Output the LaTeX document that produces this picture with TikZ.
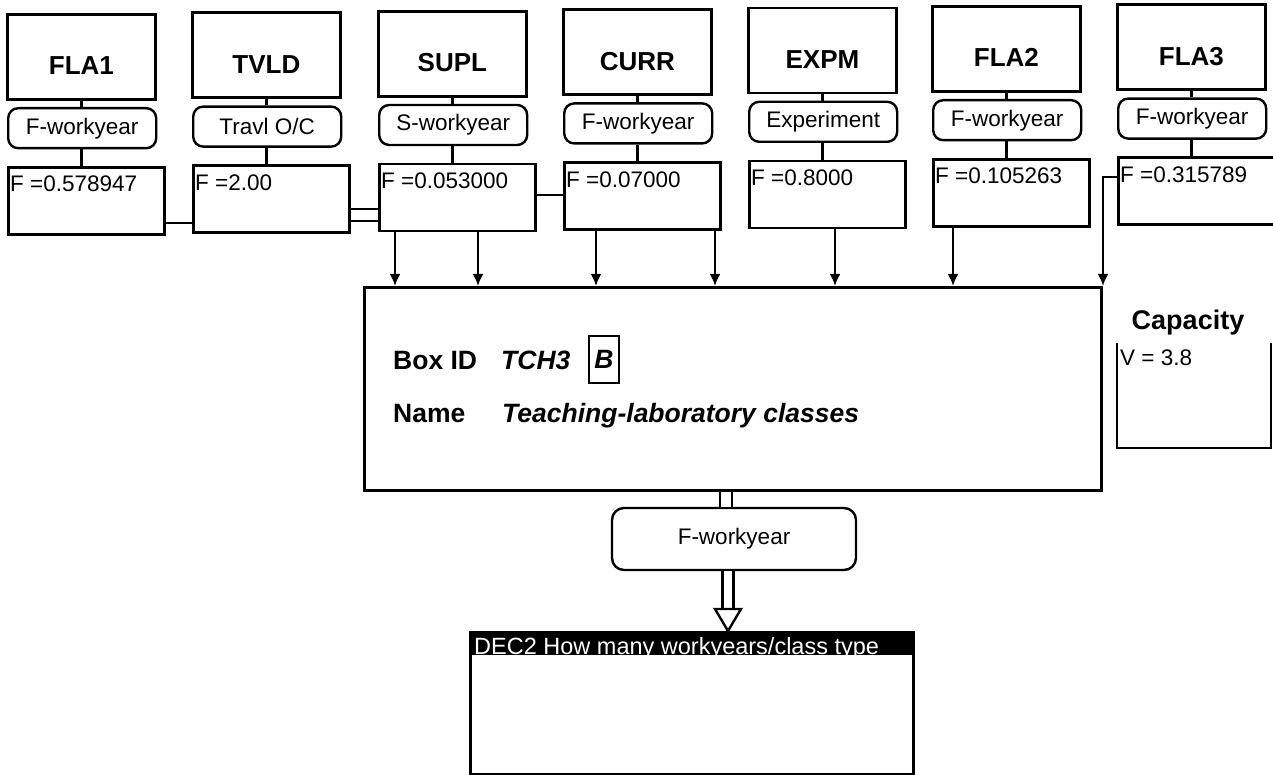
\documentclass[tikz,border=0pt]{standalone}
\usepackage{fontspec}
\setmainfont{Liberation Sans}
\usetikzlibrary{arrows.meta, calc}
\def\modcol[#1](#2,#3)#4#5#6{%
	\node[topbox, anchor=north west] (#1) at (#2,#3) {#4};
	\node[unitbox, anchor=north west] (#1u) at (#2+1,#3+94) {#5};
	\node[valbox, anchor=north west] (#1f) at (#2+1,#3+153) {};
	\node[valtext, anchor=base west] (#1v) at ($(#1f.north west)+(3,26)$) {F =#6};
	\draw[conn] (#1.south) -- (#1.south |- #1u.north);
	\draw[conn] (#1.south |- #1u.south) -- (#1.south |- #1f.north);
}

\begin{document}
\begin{tikzpicture}[x=1pt, y=-1pt,
	topbox/.style={draw, line width=2.8pt, minimum width=148pt, minimum height=85pt, inner sep=0pt,
		text height=36pt, text depth=0pt, font=\fontsize{26}{30}\selectfont\bfseries},
	unitbox/.style={draw, line width=2.4pt, rounded corners=10pt, minimum width=148pt, minimum height=40pt,
		inner sep=0pt, font=\fontsize{22.5}{26}\selectfont},
	valbox/.style={draw, line width=2.6pt, minimum width=156pt, minimum height=67pt, inner sep=0pt},
	valtext/.style={inner sep=0pt, font=\fontsize{22.5}{26}\selectfont},
	bigtext/.style={inner sep=0pt, font=\fontsize{26.5}{30}\selectfont\bfseries},
	conn/.style={line width=2.6pt},
	arr/.style={line width=2.6pt, -{Latex[length=12pt, width=11pt]}},
	dbl/.style={line width=2.4pt, double}]

	\useasboundingbox (0,0) rectangle (1273,775);

	\modcol[fla1](6,13){FLA1}{F-workyear}{0.578947}
	\modcol[tvld](191,11.4){TVLD}{Travl O/C}{2.00}
	\modcol[supl](377,9.8){SUPL}{S-workyear}{0.053000}
	\modcol[curr](562,8.2){CURR}{F-workyear}{0.07000}
	\modcol[expm](747,6.6){EXPM}{Experiment}{0.8000}
	\modcol[fla2](931,5){FLA2}{F-workyear}{0.105263}
	\modcol[fla3](1116,3.4){FLA3}{F-workyear}{0.315789}

	% activity box
	\node[draw, line width=3pt, anchor=north west, minimum width=737pt, minimum height=203pt] (tch) at (363,286) {};
	\node[bigtext, anchor=base west] (boxid) at (393,369) {Box ID};
	\node[bigtext, anchor=base west] (tchid) at (501,369) {\itshape TCH3};
	\node[bigtext, draw, line width=2.6pt, minimum width=30pt, minimum height=47pt] (bcode) at (604,359.5) {\itshape B};
	\node[bigtext, anchor=base west] (namelbl) at (393,422) {Name};
	\node[bigtext, anchor=base west] (tchname) at (502,422) {\itshape Teaching-laboratory classes};

	% links between the value boxes
	\draw[conn] (fla1f.east |- 0,223) -- (tvldf.west |- 0,223);
	\draw[conn] (tvldf.east |- 0,209) -- (suplf.west |- 0,209);
	\draw[conn] (tvldf.east |- 0,221) -- (suplf.west |- 0,221);
	\draw[conn] (suplf.east |- 0,195) -- (currf.west |- 0,195);

	\draw[arr] (suplf.south -| 395,0) -- (tch.north -| 395,0);
	\draw[arr] (suplf.south -| 478,0) -- (tch.north -| 478,0);
	\draw[arr] (currf.south -| 596,0) -- (tch.north -| 596,0);
	\draw[arr] (currf.south -| 715,0) -- (tch.north -| 715,0);
	\draw[arr] (expmf.south -| 835,0) -- (tch.north -| 835,0);
	\draw[arr] (fla2f.south -| 953,0) -- (tch.north -| 953,0);
	\draw[arr] (fla3f.west |- 0,177) -| (tch.north east);

	% capacity
	\node[inner sep=0pt, font=\fontsize{27}{30}\selectfont\bfseries] (cap) at (1188,323) {Capacity};
	\node[valtext, anchor=base west] (capv) at (1120,365) {V = 3.8};
	\draw[line width=2.4pt] (1117,343) |- (1271,448) -- (1271,343);

	% output
	\node[unitbox, rounded corners=12pt, minimum width=244pt, minimum height=62pt] (fwy) at (734,539) {F-workyear};
	\draw[dbl, double distance=9.5pt] (tch.south -| 726,0) -- (fwy.north -| 726,0);
	\draw[dbl, double distance=8.5pt] (fwy.south -| 728,0) -- (728,609);

	\node[draw, line width=2.6pt, anchor=north west, minimum width=443pt, minimum height=142pt] (dec) at (469,631) {};
	\fill (dec.north west) rectangle ($(dec.north east)+(0,24)$);
	\begin{scope}
		\clip (469,631) rectangle (912,655);
		\node[inner sep=0pt, font=\fontsize{23.5}{26}\selectfont, text=white, anchor=base west] (dectext) at (474,654) {DEC2 How many workyears/class type};
	\end{scope}
	\draw[line width=2.4pt, fill=white] (715,609) -- (741,609) -- (dec.north -| 728,0) -- cycle;

\end{tikzpicture}
\end{document}
